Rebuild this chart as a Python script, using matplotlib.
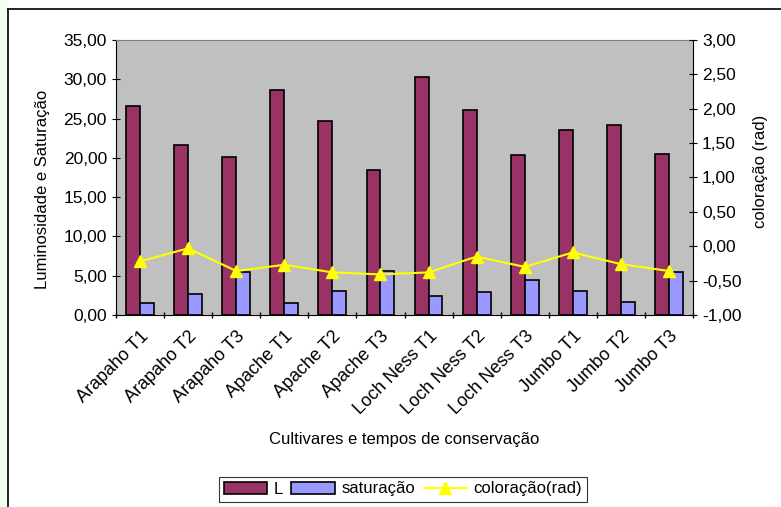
# Luminosidade, saturação e coloração por cultivar e tempo de conservação

import numpy as np
import matplotlib.pyplot as plt
from matplotlib.ticker import FuncFormatter, MultipleLocator

plt.rcParams['font.family'] = ['Liberation Sans', 'DejaVu Sans']

cultivares = ['Arapaho T1', 'Arapaho T2', 'Arapaho T3',
              'Apache T1', 'Apache T2', 'Apache T3',
              'Loch Ness T1', 'Loch Ness T2', 'Loch Ness T3',
              'Jumbo T1', 'Jumbo T2', 'Jumbo T3']
L = [26.6, 21.7, 20.15, 28.7, 24.7, 18.45, 30.25, 26.05, 20.4, 23.5, 24.2, 20.55]
saturacao = [1.48, 2.63, 5.43, 1.48, 3.05, 5.6, 2.46, 2.88, 4.45, 3.05, 1.7, 5.43]
coloracao = [-0.22, -0.03, -0.36, -0.27, -0.38, -0.41, -0.38, -0.15, -0.30, -0.09, -0.26, -0.36]


def virgula(v, pos):
    return ('%.2f' % v).replace('.', ',')


fig = plt.figure(figsize=(7.81, 5.07), dpi=100)
fig.patch.set_facecolor('white')
# moldura do gráfico
fig.add_artist(plt.Line2D([8/781, 8/781], [0, 1 - 9/507], color='black', lw=1.2))
fig.add_artist(plt.Line2D([8/781, 1], [1 - 9/507, 1 - 9/507], color='black', lw=1.2))
fig.patches.append(plt.Rectangle((0, 0), 8/781, 1, transform=fig.transFigure,
                                 facecolor='#F0FFF0', edgecolor='none'))

ax = fig.add_axes([116/781, 192/507, 577/781, 275/507])
ax.set_facecolor('#C0C0C0')

x = np.arange(len(cultivares))
w = 0.29
ax.bar(x - w/2, L, w, color='#993366', edgecolor='black', lw=1.2, label='L')
ax.bar(x + w/2, saturacao, w, color='#9999FF', edgecolor='black', lw=1.2, label='saturação')

ax.set_xlim(-0.5, len(cultivares) - 0.5)
ax.set_ylim(0, 35)
ax.yaxis.set_major_locator(MultipleLocator(5))
ax.yaxis.set_major_formatter(FuncFormatter(virgula))
ax.set_xticks(x)
ax.set_xticklabels(cultivares, rotation=45, ha='right', rotation_mode='anchor', fontsize=13)
ax.set_xticks(np.arange(len(cultivares) + 1) - 0.5, minor=True)
ax.tick_params(axis='x', which='major', length=0, pad=9)
ax.tick_params(axis='x', which='minor', length=5, direction='inout', width=1)
ax.tick_params(axis='y', direction='inout', length=6, labelsize=12.5)
ax.spines['right'].set_visible(False)
ax.spines['top'].set_color('#808080')
ax.set_ylabel('Luminosidade e Saturação', fontsize=12, labelpad=10)
ax.yaxis.label.set_y(0.458)
ax.set_xlabel('Cultivares e tempos de conservação', fontsize=12, labelpad=10)

ax2 = ax.twinx()
ax2.plot(x, coloracao, color='#FFFF00', lw=1.5, marker='^', markersize=9,
         markerfacecolor='#FFFF00', markeredgecolor='#FFFF00', label='coloração(rad)')
ax2.set_ylim(-1, 3)
ax2.yaxis.set_major_locator(MultipleLocator(0.5))
ax2.yaxis.set_major_formatter(FuncFormatter(virgula))
ax2.tick_params(axis='y', direction='inout', length=6, labelsize=12.5)
for s in ['top', 'left', 'bottom']:
    ax2.spines[s].set_visible(False)
ax2.set_ylabel('coloração (rad)', fontsize=12, labelpad=8)
ax2.yaxis.label.set_y(0.524)

h1, l1 = ax.get_legend_handles_labels()
h2, l2 = ax2.get_legend_handles_labels()
leg = fig.legend(h1 + h2, l1 + l2, loc='center', bbox_to_anchor=(403/781, 1 - 489/507),
                 ncol=3, fontsize=12, frameon=True, fancybox=False, edgecolor='black',
                 handlelength=2.6, handletextpad=0.4, columnspacing=0.5, borderpad=0.3)
leg.get_frame().set_linewidth(0.8)

fig.savefig('out.png', dpi=100)
